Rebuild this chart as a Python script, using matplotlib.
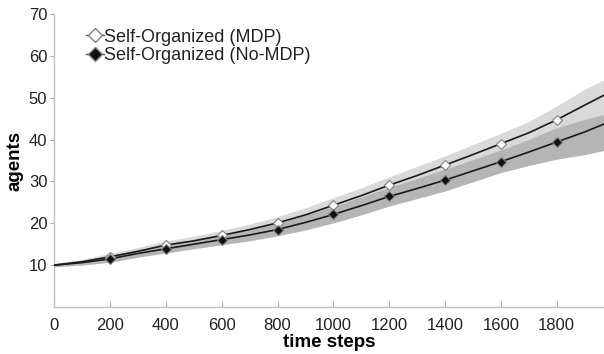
import matplotlib
matplotlib.use("Agg")
import matplotlib.pyplot as plt

plt.rcParams['font.family'] = ['Liberation Sans', 'DejaVu Sans']

# time axis
t = [0, 100, 200, 300, 400, 500, 600, 700, 800, 900, 1000, 1100, 1200,
     1300, 1400, 1500, 1600, 1700, 1800, 1900, 1970]

# Self-Organized (MDP)
mdp_mean = [10.0, 10.8, 12.0, 13.3, 14.8, 15.8, 17.1, 18.5, 20.1, 22.0, 24.3,
            26.6, 29.1, 31.4, 33.9, 36.4, 39.0, 41.6, 44.7, 48.2, 50.6]
mdp_upper = [10.4, 11.4, 12.8, 14.2, 15.8, 16.9, 18.3, 19.8, 21.6, 23.7, 26.1,
             28.5, 31.1, 33.6, 36.1, 38.8, 41.5, 44.3, 48.0, 52.0, 54.3]
mdp_lower = [9.6, 10.2, 11.2, 12.4, 13.8, 14.7, 15.9, 17.2, 18.6, 20.3, 22.5,
             24.7, 27.1, 29.2, 31.7, 34.0, 36.5, 38.9, 41.4, 44.5, 46.0]

# Self-Organized (No-MDP)
nomdp_mean = [10.0, 10.6, 11.5, 12.8, 13.9, 15.0, 16.1, 17.2, 18.5, 20.2, 22.1,
              24.2, 26.4, 28.3, 30.3, 32.5, 34.7, 37.0, 39.4, 41.8, 43.7]
nomdp_upper = [10.4, 11.2, 12.3, 13.7, 14.9, 16.1, 17.3, 18.6, 20.0, 21.9, 24.0,
               26.3, 28.6, 30.7, 32.9, 35.2, 37.5, 40.0, 42.8, 44.8, 46.0]
nomdp_lower = [9.6, 10.0, 10.7, 11.9, 12.9, 13.9, 14.9, 15.8, 17.0, 18.4, 20.1,
               22.0, 24.1, 25.9, 27.7, 29.9, 32.1, 33.8, 35.3, 36.4, 37.4]

marker_t = [200, 400, 600, 800, 1000, 1200, 1400, 1600, 1800]
mdp_marks = [12.0, 14.8, 17.1, 20.1, 24.3, 29.1, 33.9, 39.0, 44.7]
nomdp_marks = [11.5, 13.9, 16.1, 18.5, 22.1, 26.4, 30.3, 34.7, 39.4]

labels = ['Self-Organized (MDP)', 'Self-Organized (No-MDP)']
xticks = [0, 200, 400, 600, 800, 1000, 1200, 1400, 1600, 1800]
yticks = [10, 20, 30, 40, 50, 60, 70]

fig = plt.figure(figsize=(6.04, 3.54), dpi=100)
ax = fig.add_axes([0.0899, 0.1328, 0.9101, 0.8277])

ax.fill_between(t, mdp_lower, mdp_upper, color='#d9d9d9', lw=0, zorder=1)
ax.fill_between(t, nomdp_lower, nomdp_upper, color='#b5b5b5', lw=0, zorder=2)

ax.plot(t, mdp_mean, color='#1a1a1a', lw=1.2, zorder=3)
ax.plot(t, nomdp_mean, color='#1a1a1a', lw=1.2, zorder=3)
ax.plot(marker_t, mdp_marks, ls='none', marker='D', ms=5.0, mfc='white',
        mec='#808080', mew=0.8, zorder=4)
ax.plot(marker_t, nomdp_marks, ls='none', marker='D', ms=5.0, mfc='#111111',
        mec='#808080', mew=0.8, zorder=4)

# legend handles
h1, = ax.plot([], [], color='#555555', lw=1.0, marker='D', ms=7, mfc='white',
              mec='#808080', mew=1.0)
h2, = ax.plot([], [], color='#555555', lw=1.0, marker='D', ms=7, mfc='#111111',
              mec='#808080', mew=1.0)
leg = ax.legend([h1, h2], labels, loc='upper left', bbox_to_anchor=(0.045, 0.975),
                frameon=False, fontsize=13, handlelength=1.0, handletextpad=0.0,
                labelspacing=0.1, borderaxespad=0.0, markerfirst=True)
for txt in leg.get_texts():
    txt.set_color('#222222')

ax.set_xlim(0, 1970)
ax.set_ylim(0, 70)
ax.set_xticks(xticks)
ax.set_yticks(yticks)
ax.tick_params(axis='x', direction='in', length=4, color='#aaaaaa',
               labelsize=12, labelcolor='#222222', pad=8)
ax.tick_params(axis='y', direction='out', length=3, color='#aaaaaa',
               labelsize=12, labelcolor='#222222', pad=2)
for s in ['top', 'right']:
    ax.spines[s].set_visible(False)
for s in ['left', 'bottom']:
    ax.spines[s].set_color('#c0c0c0')
    ax.spines[s].set_linewidth(1.0)

ax.set_xlabel('time steps', fontsize=13.5, fontweight='bold', labelpad=1)
ax.set_ylabel('agents', fontsize=13.5, fontweight='bold', labelpad=4)

fig.savefig('out.png', dpi=100)
